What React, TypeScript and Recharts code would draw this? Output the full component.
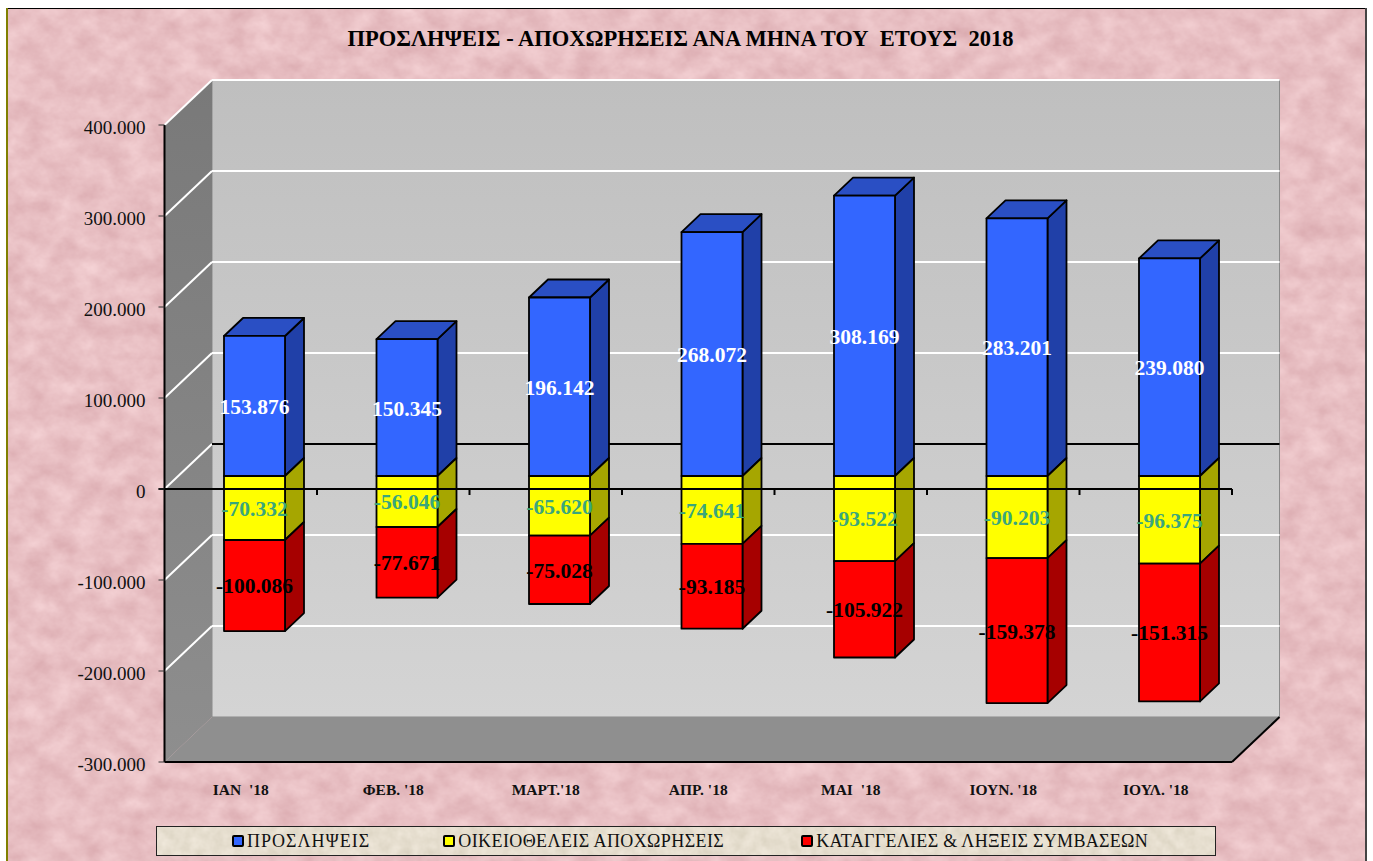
import { Bar, BarChart, LabelList, Legend, ReferenceArea, ReferenceLine, XAxis, YAxis } from "recharts";

const FONT = "'Liberation Serif', serif";

const months = ["ΙΑΝ\u00a0 '18", "ΦΕΒ. '18", "ΜΑΡΤ.'18", "ΑΠΡ. '18", "ΜΑΙ\u00a0 '18", "ΙΟΥΝ. '18", "ΙΟΥΛ. '18"];
const hires = [153876, 150345, 196142, 268072, 308169, 283201, 239080];
const voluntary = [-70332, -56046, -65620, -74641, -93522, -90203, -96375];
const terminations = [-100086, -77671, -75028, -93185, -105922, -159378, -151315];
const yTicks = [-300000, -200000, -100000, 0, 100000, 200000, 300000, 400000];
const legendSpacing = [1, 0.4, 0.3];
const legendGaps = [75, 73, 77];

const data = months.map((month, i) => ({
  month,
  hires: hires[i],
  voluntary: voluntary[i],
  terminations: terminations[i],
}));

// depth of the fake 3D box: walls, and where the bars sit inside it
const WALL_DX = 47.5;
const WALL_DY = 45;
const BAR_DX = 14.5;
const BAR_DY = 13;
const SIDE_DX = 19;
const SIDE_DY = 18;

const fmt = (v: number) => String(v).replace(/\B(?=(\d{3})+$)/g, ".");

function walls({ x, y, width, height }: any) {
  const r = x + width;
  const b = y + height;
  const d = (pts: number[][]) => pts.map((p) => p.join(",")).join(" ");
  return (
    <g>
      <polygon
        points={d([[x + WALL_DX, y - WALL_DY], [r + WALL_DX, y - WALL_DY], [r + WALL_DX, b - WALL_DY], [x + WALL_DX, b - WALL_DY]])}
        fill="url(#backWall)"
        stroke="#8a8a8a"
        strokeWidth={1}
      />
      <polygon
        points={d([[x, y], [x + WALL_DX, y - WALL_DY], [x + WALL_DX, b - WALL_DY], [x, b]])}
        fill="url(#sideWall)"
      />
      <polygon
        points={d([[x, b], [x + WALL_DX, b - WALL_DY], [r + WALL_DX, b - WALL_DY], [r, b]])}
        fill="#8f8f8f"
      />
      <line x1={r} y1={b} x2={r + WALL_DX} y2={b - WALL_DY} stroke="#000" strokeWidth={2} />
    </g>
  );
}

function gridLine({ x1, y1, x2 }: any, isZero: boolean) {
  return (
    <g>
      <line x1={x1} y1={y1} x2={x1 + WALL_DX} y2={y1 - WALL_DY} stroke="#fff" strokeWidth={2} />
      <line
        x1={x1 + WALL_DX}
        y1={y1 - WALL_DY}
        x2={x2 + WALL_DX}
        y2={y1 - WALL_DY}
        stroke={isZero ? "#000" : "#fff"}
        strokeWidth={2}
      />
    </g>
  );
}

function zeroAxis({ x1, y1, x2 }: any) {
  const step = (x2 - x1) / months.length;
  return (
    <g>
      <line x1={x1 - 6} y1={y1} x2={x2} y2={y1} stroke="#000" strokeWidth={2} />
      {months.map((m, i) => (
        <line key={m} x1={x1 + step * (i + 1)} y1={y1} x2={x1 + step * (i + 1)} y2={y1 + 6} stroke="#000" strokeWidth={2} />
      ))}
    </g>
  );
}

function box3d(front: string, side: string, top?: string) {
  return ({ x, y, width, height }: any) => {
    const h = Math.abs(height);
    const t = (height < 0 ? y + height : y) - BAR_DY;
    const l = x + BAR_DX;
    const r = l + width - 1;
    const b = t + h;
    const edge = { stroke: "#000", strokeWidth: 1.8, strokeLinejoin: "round" as const };
    return (
      <g>
        <polygon points={`${r},${t} ${r + SIDE_DX},${t - SIDE_DY} ${r + SIDE_DX},${b - SIDE_DY} ${r},${b}`} fill={side} {...edge} />
        {top && (
          <polygon points={`${l},${t} ${l + SIDE_DX},${t - SIDE_DY} ${r + SIDE_DX},${t - SIDE_DY} ${r},${t}`} fill={top} {...edge} />
        )}
        <rect x={l} y={t} width={width - 1} height={h} fill={front} {...edge} />
      </g>
    );
  };
}

function valueLabel(color: string) {
  return ({ x, y, width, height, value }: any) => (
    <text
      x={x + width / 2 + 14}
      y={y + height / 2 - BAR_DY + 3}
      textAnchor="middle"
      dominantBaseline="middle"
      fontFamily={FONT}
      fontWeight="bold"
      fontSize={21.5}
      fill={color}
    >
      {fmt(value)}
    </text>
  );
}

function legendBox({ payload }: any) {
  return (
    <div
      style={{
        position: "relative",
        width: "100%",
        height: "100%",
        boxSizing: "border-box",
        border: "1px solid #222",
        overflow: "hidden",
        display: "flex",
        alignItems: "center",
        fontFamily: FONT,
        fontSize: 18,
        color: "#111",
      }}
    >
      <svg width="100%" height="100%" style={{ position: "absolute", left: 0, top: 0 }}>
        <rect width="100%" height="100%" filter="url(#linen)" />
      </svg>
      {(payload || []).map((item: any, i: number) => (
        <span
          key={item.value}
          style={{
            position: "relative",
            display: "flex",
            alignItems: "center",
            marginLeft: legendGaps[i],
            letterSpacing: legendSpacing[i],
          }}
        >
          <span
            style={{
              display: "inline-block",
              width: 8,
              height: 8,
              marginRight: 3,
              background: item.color,
              border: "2px solid #000",
              borderRadius: 2,
            }}
          />
          {item.value}
        </span>
      ))}
    </div>
  );
}

export default function App() {
  return (
    <div style={{ position: "absolute", left: 0, top: 0, width: 1373, height: 861, overflow: "hidden", background: "#fff" }}>
      <svg width={1373} height={861} style={{ position: "absolute", left: 0, top: 0 }}>
        <defs>
          <filter id="marble" x="0" y="0" width="100%" height="100%" colorInterpolationFilters="sRGB">
            <feTurbulence type="fractalNoise" baseFrequency="0.04 0.05" numOctaves={4} seed={7} />
            <feColorMatrix type="matrix" values="0.12 0 0 0 0.85  0.18 0 0 0 0.66  0.17 0 0 0 0.68  0 0 0 0 1" />
          </filter>
          <filter id="linen" x="0" y="0" width="100%" height="100%" colorInterpolationFilters="sRGB">
            <feTurbulence type="fractalNoise" baseFrequency="0.09" numOctaves={3} seed={3} />
            <feColorMatrix type="matrix" values="0.1 0 0 0 0.85  0.1 0 0 0 0.82  0.12 0 0 0 0.75  0 0 0 0 1" />
          </filter>
        </defs>
        <rect x={7} y={8} width={1359} height={853} filter="url(#marble)" />
        <line x1={7} y1={8.5} x2={1366} y2={8.5} stroke="#000" strokeWidth={1} />
        <line x1={7} y1={8} x2={7} y2={861} stroke="#808000" strokeWidth={2} />
        <line x1={1366} y1={8} x2={1366} y2={861} stroke="#444" strokeWidth={2} />
      </svg>
      <div
        style={{
          position: "absolute",
          left: 0,
          width: 1361,
          top: 26,
          textAlign: "center",
          fontFamily: FONT,
          fontWeight: "bold",
          fontSize: 22.5,
          whiteSpace: "pre",
          color: "#000",
        }}
      >
        {"ΠΡΟΣΛΗΨΕΙΣ - ΑΠΟΧΩΡΗΣΕΙΣ ΑΝΑ ΜΗΝΑ ΤΟΥ  ΕΤΟΥΣ  2018"}
      </div>
      <BarChart
        width={1373}
        height={861}
        data={data}
        stackOffset="sign"
        barSize={62}
        margin={{ top: 125, right: 141, left: 0, bottom: 0 }}
        style={{ position: "absolute", left: 0, top: 0, fontFamily: FONT }}
      >
        <defs>
          <linearGradient id="backWall" x1="0" y1="0" x2="0" y2="1">
            <stop offset="0%" stopColor="#bfbfbf" />
            <stop offset="100%" stopColor="#d4d4d4" />
          </linearGradient>
          <linearGradient id="sideWall" x1="0" y1="0" x2="0" y2="1">
            <stop offset="0%" stopColor="#797979" />
            <stop offset="100%" stopColor="#8e8e8e" />
          </linearGradient>
        </defs>
        <XAxis
          dataKey="month"
          interval={0}
          height={99}
          tickLine={false}
          tickMargin={16}
          axisLine={{ stroke: "#000", strokeWidth: 2 }}
          tick={{ fill: "#111", fontSize: 15.5, fontWeight: "bold" }}
        />
        <YAxis
          domain={[-300000, 400000]}
          ticks={yTicks}
          interval={0}
          width={164.5}
          tickSize={6}
          tickMargin={13}
          tickFormatter={fmt}
          axisLine={{ stroke: "#000", strokeWidth: 2 }}
          tickLine={{ stroke: "#333" }}
          tick={{ fill: "#111", fontSize: 19, dy: 2 }}
        />
        <ReferenceArea y1={-300000} y2={400000} shape={walls} fillOpacity={1} zIndex={50} />
        {yTicks
          .filter((t) => t > -300000)
          .map((t) => (
            <ReferenceLine key={t} y={t} zIndex={60} shape={(p: any) => gridLine(p, t === 0)} />
          ))}
        <Bar dataKey="hires" name="ΠΡΟΣΛΗΨΕΙΣ" stackId="a" fill="#3366ff" isAnimationActive={false} shape={box3d("#3366ff", "#2040a8", "#2a4fc4")}>
          <LabelList dataKey="hires" content={valueLabel("#ffffff")} />
        </Bar>
        <Bar dataKey="voluntary" name="ΟΙΚΕΙΟΘΕΛΕΙΣ ΑΠΟΧΩΡΗΣΕΙΣ" stackId="a" fill="#ffff00" isAnimationActive={false} shape={box3d("#ffff00", "#a6a600")}>
          <LabelList dataKey="voluntary" content={valueLabel("#3aa67c")} />
        </Bar>
        <Bar dataKey="terminations" name="ΚΑΤΑΓΓΕΛΙΕΣ & ΛΗΞΕΙΣ ΣΥΜΒΑΣΕΩΝ" stackId="a" fill="#ff0000" isAnimationActive={false} shape={box3d("#ff0000", "#a60000")}>
          <LabelList dataKey="terminations" content={valueLabel("#000000")} />
        </Bar>
        <ReferenceLine y={0} zIndex={450} shape={zeroAxis} />
        <Legend
          layout="horizontal"
          verticalAlign="middle"
          align="center"
          itemSorter={null}
          content={legendBox}
          wrapperStyle={{ left: 156, top: 826, right: "auto", bottom: "auto", width: 1060, height: 30, margin: 0 }}
        />
      </BarChart>
    </div>
  );
}
